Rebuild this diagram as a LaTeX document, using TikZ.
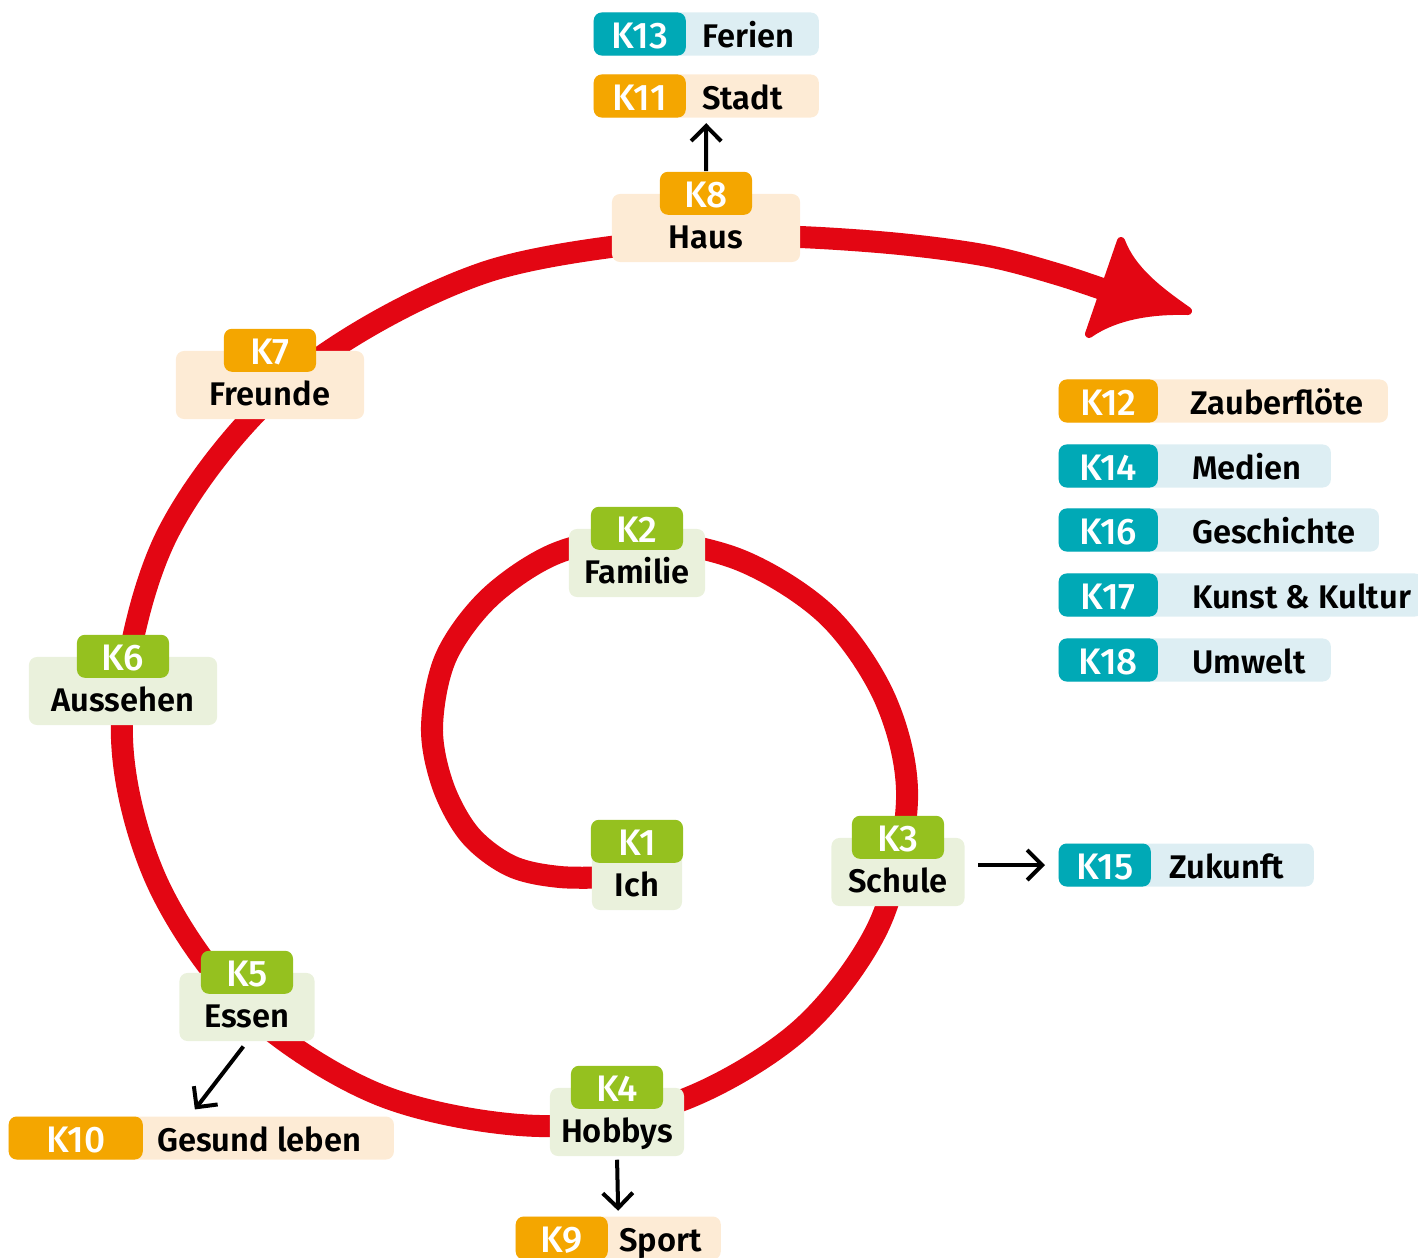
\documentclass[tikz,border=0pt]{standalone}
\usepackage{fontspec}
\setmainfont{Fira Sans}[UprightFont={* Medium},BoldFont={* SemiBold}]
\usepackage{xcolor}
\usepackage{tikz}
\usetikzlibrary{arrows.meta,calc,positioning}
\definecolor{spiralred}{HTML}{E30613}
\definecolor{kgreen}{HTML}{95C11F}
\definecolor{kgreenlight}{HTML}{EAF1DC}
\definecolor{korange}{HTML}{F4A600}
\definecolor{korangelight}{HTML}{FDEBD5}
\definecolor{kteal}{HTML}{00A9B6}
\definecolor{ktealight}{HTML}{DDEEF3}

\begin{document}
\begin{tikzpicture}[x=0.01cm,y=-0.01cm,
  box/.style={rounded corners=0.8mm,inner sep=0pt},
  ktag/.style={box,text=white,minimum height=4.3mm,minimum width=9.2mm,text height=2.8mm,text depth=0pt,font=\fontsize{10.5}{12}\selectfont},
  ktagG/.style={ktag,fill=kgreen},
  ktagO/.style={ktag,fill=korange},
  ktagT/.style={ktag,fill=kteal},
  topic/.style={box,minimum height=6.8mm,text height=5.4mm,text depth=1.4mm,font=\fontsize{9.3}{11}\selectfont\bfseries},
  topicG/.style={topic,fill=kgreenlight},
  topicO/.style={topic,fill=korangelight},
  leg/.style={box,minimum height=4.3mm,anchor=west},
  legO/.style={leg,fill=korangelight},
  legT/.style={leg,fill=ktealight},
  lbl/.style={inner sep=0pt,text height=2.6mm,text depth=0pt,font=\fontsize{9.3}{11}\selectfont\bfseries},
  conn/.style={line width=0.4mm,-{Straight Barb[length=1.5mm,width=3mm]}}]
\useasboundingbox (0,0) rectangle (1418,1257);

% the spiral
\draw[spiralred,line width=2.2mm] plot[smooth,tension=0.55] coordinates {
  (620,877) (560,877) (511,866) (470,835) (443,786) (432,727)
  (446,657) (490,597) (557,553) (637,539) (740,560) (828,616)
  (886,701) (907,800) (879,925) (800,1030) (680,1101) (540,1126)
  (380,1095) (244,1007) (154,875) (122,720) (167,535) (293,378)
  (483,273) (706,236) (800,237) (900,244) (988,256) (1060,275) (1125,297)};
\fill[spiralred,draw=spiralred,line width=0.8mm,line join=round]
  (1121,241) .. controls (1132,270) and (1158,290) .. (1188,311)
  .. controls (1150,310) and (1115,316) .. (1089,334) -- cycle;

% stations on the spiral
\node[topicG,minimum width=9mm] (ich) at (637,876) {Ich};
\node[ktagG] (k1) at (ich.north) {K1};
\node[topicG,minimum width=13.6mm] (familie) at (637,563) {Familie};
\node[ktagG] (k2) at (familie.north) {K2};
\node[topicG,minimum width=13.3mm] (schule) at (898,872) {Schule};
\node[ktagG] (k3) at (schule.north) {K3};
\node[topicG,minimum width=13.4mm] (hobbys) at (617,1122) {Hobbys};
\node[ktagG] (k4) at (hobbys.north) {K4};
\node[topicG,minimum width=13.5mm] (essen) at (247,1007) {Essen};
\node[ktagG] (k5) at (essen.north) {K5};
\node[topicG,minimum width=18.8mm] (aussehen) at (123,691) {Aussehen};
\node[ktagG] (k6) at (aussehen.north) {K6};
\node[topicO,minimum width=18.8mm] (freunde) at (270,385) {Freunde};
\node[ktagO] (k7) at (freunde.north) {K7};
\node[topicO,minimum width=18.8mm] (haus) at (706,228) {Haus};
\node[ktagO] (k8) at (haus.north) {K8};

% side topics
\node[legT,minimum width=22.5mm] (ferien) at (593,34) {};
\node[ktagT,anchor=west] (k13) at (ferien.west) {K13};
\node[lbl,right=1.5mm of k13] (ferienlbl) {Ferien};

\node[legO,minimum width=22.5mm] (stadt) at (593,96) {};
\node[ktagO,anchor=west] (k11) at (stadt.west) {K11};
\node[lbl,right=1.5mm of k11] (stadtlbl) {Stadt};

\node[legO,minimum width=32.9mm] (zauber) at (1058,401) {};
\node[ktagO,anchor=west,minimum width=9.9mm] (k12) at (zauber.west) {K12};
\node[lbl,right=3.1mm of k12] (zauberlbl) {Zauberflöte};

\node[legT,minimum width=27.2mm] (medien) at (1058,466) {};
\node[ktagT,anchor=west,minimum width=9.9mm] (k14) at (medien.west) {K14};
\node[lbl,right=3.3mm of k14] (medienlbl) {Medien};

\node[legT,minimum width=32mm] (geschichte) at (1058,530) {};
\node[ktagT,anchor=west,minimum width=9.9mm] (k16) at (geschichte.west) {K16};
\node[lbl,right=3.3mm of k16] (geschichtelbl) {Geschichte};

\node[legT,minimum width=36.4mm] (kunst) at (1058,595) {};
\node[ktagT,anchor=west,minimum width=9.9mm] (k17) at (kunst.west) {K17};
\node[lbl,right=3.3mm of k17] (kunstlbl) {Kunst \& Kultur};

\node[legT,minimum width=27.2mm] (umwelt) at (1058,660) {};
\node[ktagT,anchor=west,minimum width=9.9mm] (k18) at (umwelt.west) {K18};
\node[lbl,right=3.3mm of k18] (umweltlbl) {Umwelt};

\node[legT,minimum width=25.5mm] (zukunft) at (1058,865) {};
\node[ktagT,anchor=west] (k15) at (zukunft.west) {K15};
\node[lbl,right=1.7mm of k15] (zukunftlbl) {Zukunft};

\node[legO,minimum width=38.5mm] (gesund) at (8,1138) {};
\node[ktagO,anchor=west,minimum width=13.4mm] (k10) at (gesund.west) {K10};
\node[lbl,right=1.3mm of k10] (gesundlbl) {Gesund leben};

\node[legO,minimum width=20.5mm] (sport) at (515,1238) {};
\node[ktagO,anchor=west] (k9) at (sport.west) {K9};
\node[lbl,right=1mm of k9] (sportlbl) {Sport};

% arrows to the side topics
\draw[conn,shorten >=0.5mm] (k8.north) -- (stadt.south);
\draw[conn,shorten <=1.3mm,shorten >=1.3mm] (schule.east |- k15) -- (k15.west);
\draw[conn,shorten <=0.6mm,shorten >=0.8mm] (essen.south) -- ($(gesund.north west)+(182,0)$);
\draw[conn,shorten <=0.3mm,shorten >=0.5mm] (hobbys.south) -- (sport.north);
\end{tikzpicture}
\end{document}
